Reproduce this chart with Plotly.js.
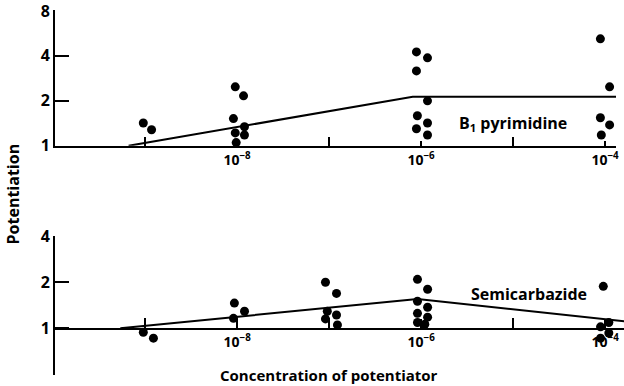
<!DOCTYPE html>
<html>
<head>
<meta charset="utf-8">
<script src="https://cdn.plot.ly/plotly-3.0.1.min.js"></script>
<style>html,body{margin:0;padding:0;background:#fff;}#chart{width:624px;height:386px;}</style>
</head>
<body>
<div id="chart"></div>
<script>
// log10 of potentiator concentration (M) and potentiation
var b1LogConc = [-9.02, -8.93,
  -8.02, -7.93, -8.04, -7.92, -8.02, -7.92, -8.01,
  -6.05, -5.93, -6.05, -5.93, -6.04, -5.93, -6.05, -5.93,
  -4.05, -3.95, -4.05, -3.95, -4.04];
var b1Potentiation = [1.42, 1.28,
  2.48, 2.16, 1.52, 1.34, 1.22, 1.18, 1.05,
  4.25, 3.88, 3.17, 2.0, 1.59, 1.42, 1.30, 1.18,
  5.2, 2.48, 1.54, 1.38, 1.18];
var b1LineLogConc = [-9.18, -6.09, -3.88];
var b1LinePotentiation = [1, 2.13, 2.13];

var semiLogConc = [-9.02, -8.91,
  -8.03, -7.92, -8.04,
  -7.04, -6.92, -7.02, -6.92, -7.04, -6.91,
  -6.04, -5.93, -6.04, -5.93, -6.04, -5.93, -6.04, -5.96,
  -4.02, -3.96, -4.05, -3.96, -4.05];
var semiPotentiation = [0.94, 0.86,
  1.46, 1.29, 1.16,
  2.0, 1.69, 1.29, 1.22, 1.15, 1.05,
  2.09, 1.8, 1.5, 1.37, 1.25, 1.18, 1.09, 1.06,
  1.88, 1.09, 1.02, 0.93, 0.86];
var semiLineLogConc = [-9.27, -6.04, -3.79];
var semiLinePotentiation = [1, 1.55, 1.11];

var xLabelVals = [1e-8, 1e-6, 1e-4];
var xLabelText = ['10<sup>\u22128</sup>', '10<sup>\u22126</sup>', '10<sup>\u22124</sup>'];
var xMinorVals = [1e-9, 1e-7, 1e-5];
var yTopTicks = [1, 2, 4, 8];
var yBottomTicks = [1, 2, 4];
var yBottomMinor = [0.5];

function toConc(arr) { return arr.map(function (e) { return Math.pow(10, e); }); }

var FONT = '"Open Sans", Lato, sans-serif';

var traces = [
  {x: toConc(b1LogConc), y: b1Potentiation, xaxis: 'x', yaxis: 'y', mode: 'markers',
   marker: {color: '#000', size: 9}, cliponaxis: false, hoverinfo: 'skip'},
  {x: toConc(b1LineLogConc), y: b1LinePotentiation, xaxis: 'x', yaxis: 'y', mode: 'lines',
   line: {color: '#000', width: 2}, cliponaxis: false, hoverinfo: 'skip'},
  {x: toConc(semiLogConc), y: semiPotentiation, xaxis: 'x2', yaxis: 'y2', mode: 'markers',
   marker: {color: '#000', size: 9}, cliponaxis: false, hoverinfo: 'skip'},
  {x: toConc(semiLineLogConc), y: semiLinePotentiation, xaxis: 'x2', yaxis: 'y2', mode: 'lines',
   line: {color: '#000', width: 2}, cliponaxis: false, hoverinfo: 'skip'}
];

var xTickFont = {family: FONT, size: 14, color: '#000', weight: 'bold'};
var yTickFont = {family: FONT, size: 16, color: '#000', weight: 'bold'};

function xMinor(len) {
  return {tickmode: 'array', tickvals: xMinorVals, ticks: 'inside', ticklen: len,
          tickwidth: 1.5, tickcolor: '#000', showgrid: false};
}

var layout = {
  width: 624, height: 386,
  margin: {l: 55, r: 0, t: 10, b: 11},
  paper_bgcolor: '#fff', plot_bgcolor: '#fff',
  showlegend: false,
  xaxis: {type: 'log', domain: [0, 0.986], range: [-9.98, -3.88], anchor: 'y',
    showline: true, linecolor: '#000', linewidth: 2, showgrid: false, zeroline: false,
    ticks: 'inside', ticklen: 5, tickwidth: 1.5, tickcolor: '#000', ticklabeloverflow: 'allow',
    tickmode: 'array', tickvals: xLabelVals, ticktext: xLabelText, tickfont: xTickFont,
    minor: xMinor(9)},
  yaxis: {type: 'log', domain: [0.628, 1], range: [0, Math.log10(8) + 0.006], anchor: 'x',
    showline: true, linecolor: '#000', linewidth: 2, showgrid: false, zeroline: false,
    ticks: 'inside', ticklen: 14, tickwidth: 2, tickcolor: '#000', ticklabeloverflow: 'allow',
    tickmode: 'array', tickvals: yTopTicks, ticktext: yTopTicks.map(String), tickfont: yTickFont},
  xaxis2: {type: 'log', domain: [0, 1], range: [-9.98, -3.795], anchor: 'free', position: 0.1267,
    showline: true, linecolor: '#000', linewidth: 2, showgrid: false, zeroline: false,
    ticks: 'inside', ticklen: 9, tickwidth: 1.5, tickcolor: '#000', ticklabeloverflow: 'allow',
    tickmode: 'array', tickvals: xLabelVals, ticktext: xLabelText, tickfont: xTickFont,
    minor: xMinor(10)},
  yaxis2: {type: 'log', domain: [0, 0.380], range: [Math.log10(0.5) - 0.006, Math.log10(4)], anchor: 'x2',
    showline: true, linecolor: '#000', linewidth: 2, showgrid: false, zeroline: false,
    ticks: 'inside', ticklen: 14, tickwidth: 2, tickcolor: '#000', ticklabeloverflow: 'allow',
    tickmode: 'array', tickvals: yBottomTicks, ticktext: yBottomTicks.map(String), tickfont: yTickFont,
    minor: {tickmode: 'array', tickvals: yBottomMinor, ticks: 'inside', ticklen: 14,
            tickwidth: 2, tickcolor: '#000', showgrid: false}},
  annotations: [
    {text: 'B<sub>1</sub> pyrimidine', xref: 'paper', yref: 'paper', x: 0.805, y: 0.689,
     xanchor: 'center', yanchor: 'middle',
     showarrow: false, font: {family: FONT, size: 16, color: '#000', weight: 'bold'}},
    {text: 'Semicarbazide', xref: 'paper', yref: 'paper', x: 0.833, y: 0.223,
     xanchor: 'center', yanchor: 'middle',
     showarrow: false, font: {family: FONT, size: 16, color: '#000', weight: 'bold'}},
    {text: 'Potentiation', xref: 'paper', yref: 'paper', x: -0.0747, y: 0.496, textangle: -90,
     xanchor: 'center', yanchor: 'middle',
     showarrow: false, font: {family: FONT, size: 16, color: '#000', weight: 'bold'}},
    {text: 'Concentration of potentiator', xref: 'paper', yref: 'paper', x: 0.481, y: -0.0,
     xanchor: 'center', yanchor: 'middle',
     showarrow: false, font: {family: FONT, size: 15, color: '#000', weight: 'bold'}}
  ]
};

Plotly.newPlot('chart', traces, layout, {staticPlot: true, displayModeBar: false});
</script>
</body>
</html>
